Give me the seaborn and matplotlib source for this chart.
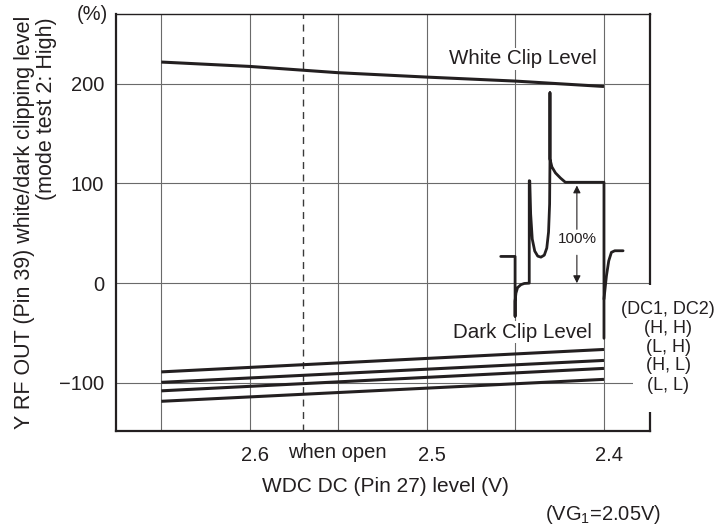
import numpy as np
import pandas as pd
import matplotlib
matplotlib.use('Agg')
import matplotlib.pyplot as plt
import matplotlib.transforms as mtransforms
from matplotlib.patches import Rectangle
import seaborn as sns

# sweep points on the WDC DC axis (V)
wdc_points = [2.65, 2.60, 2.55, 2.50, 2.45, 2.40]
white_clip = [221.8, 217.4, 211.1, 206.7, 202.7, 197.3]

# dark clip level for each (DC1, DC2) setting
dark_x = [2.65, 2.40]
dark_hh = [-89.0, -66.5]
dark_lh = [-99.5, -77.5]
dark_hl = [-108.0, -85.5]
dark_ll = [-118.5, -96.5]
dark_settings = ['(H, H)', '(L, H)', '(H, L)', '(L, L)']

# sketch of the video waveform drawn inside the plot
wave_x = [2.4583, 2.4502, 2.4502, 2.4502, 2.4497, 2.4488, 2.4469, 2.4450, 2.4422,
          2.4422, 2.4419, 2.4414, 2.4405, 2.4391, 2.4374, 2.4356, 2.4337, 2.4323,
          2.4313, 2.4307, 2.4305, 2.4305, 2.4305, 2.4294, 2.4274, 2.4246, 2.4218,
          2.4000, 2.4000]
wave_y = [26.8, 26.8, -33.2, -18.0, -10.0, -4.5, -1.5, -0.3, 0.0,
          102.8, 102.5, 69.3, 44.2, 32.2, 27.1, 26.1, 28.1, 35.2,
          51.3, 79.4, 124.6, 191.0, 124.6, 116.6, 110.6, 105.5, 101.2,
          101.2, -55.3]
tail_x = [2.4000, 2.3986, 2.3973, 2.3958, 2.3939, 2.3892]
tail_y = [-16.0, 7.3, 22.4, 30.9, 32.5, 32.5]

open_x = 2.57
x_ticks = [2.6, 2.5, 2.4]
x_grid = [2.65, 2.55, 2.45]
y_ticks = [-100, 0, 100, 200]

sns.set_theme(style='white')
plt.rcParams['font.family'] = ['Liberation Sans', 'DejaVu Sans']
plt.rcParams['mathtext.fontset'] = 'custom'
plt.rcParams['mathtext.rm'] = 'Liberation Sans'
plt.rcParams['mathtext.it'] = 'Liberation Sans'

W, H = 718, 528
ink = '#231f20'
fig = plt.figure(figsize=(W / 100, H / 100), dpi=100)
ax = fig.add_axes([116 / W, 1 - 430.7 / H, 534 / W, 416.7 / H])


def fx(px):
    return px / W


def fy(py):
    return 1 - py / H


sns.lineplot(x=wdc_points, y=white_clip, ax=ax, color=ink, lw=2.2,
             solid_capstyle='butt')

dark_df = pd.DataFrame({
    'wdc': dark_x * 4,
    'level': dark_hh + dark_lh + dark_hl + dark_ll,
    'setting': np.repeat(dark_settings, 2),
})
sns.lineplot(data=dark_df, x='wdc', y='level', hue='setting', ax=ax,
             palette=[ink] * 4, lw=2.2, legend=False, solid_capstyle='butt')

sns.lineplot(x=wave_x, y=wave_y, ax=ax, sort=False, estimator=None,
             color=ink, lw=2.0)
sns.lineplot(x=tail_x, y=tail_y, ax=ax, sort=False, estimator=None,
             color=ink, lw=2.0)

ax.axvline(open_x, color='#3a3a3a', lw=1.0, ls=(0, (5, 4)), zorder=1)

ax.set_xlabel('')
ax.set_ylabel('')
ax.set_xlim(2.6756, 2.374)
ax.set_ylim(-148, 270)
ax.set_xticks(x_ticks)
ax.set_xticks(x_grid, minor=True)
ax.set_yticks(y_ticks)
ax.set_yticklabels(['\u2212100', '0', '100', '200'])
ax.grid(True, which='both', color='#6a6a6a', lw=0.8)
ax.tick_params(axis='both', which='both', length=0, labelsize=14.5,
               colors=ink)
ax.tick_params(axis='y', pad=8.6)
ax.tick_params(axis='x', pad=11.2)
shift = mtransforms.ScaledTranslation(5 / 100, 0, fig.dpi_scale_trans)
for lab in ax.get_xticklabels():
    lab.set_transform(lab.get_transform() + shift)

for side in ['left', 'bottom', 'right']:
    ax.spines[side].set_linewidth(1.6)
    ax.spines[side].set_color(ink)
ax.spines['top'].set_linewidth(1.0)
ax.spines['top'].set_color(ink)

# gap in the right frame where the setting labels sit
ax.add_patch(Rectangle((0.968, 0.0456), 0.05, 0.3041, transform=ax.transAxes,
                       facecolor='white', edgecolor='none', zorder=3,
                       clip_on=False))

# 100% amplitude arrows
ax.annotate('', xy=(2.4153, 98), xytext=(2.4153, 54),
            arrowprops=dict(arrowstyle='-|>', color=ink, lw=0.8,
                            mutation_scale=11, shrinkA=0, shrinkB=0))
ax.annotate('', xy=(2.4153, 0), xytext=(2.4153, 28),
            arrowprops=dict(arrowstyle='-|>', color=ink, lw=0.8,
                            mutation_scale=11, shrinkA=0, shrinkB=0))
ax.text(2.4153, 44.7, '100%', ha='center', va='center', fontsize=11,
        color=ink)

ax.text(2.4458, 225, 'White Clip Level', ha='center', va='center',
        fontsize=14.8, color=ink, zorder=4,
        bbox=dict(facecolor='white', edgecolor='none', pad=1))
ax.text(2.4458, -49, 'Dark Clip Level', ha='center', va='center',
        fontsize=14.8, color=ink, zorder=4,
        bbox=dict(facecolor='white', edgecolor='none', pad=1))

# texts outside the axes, placed in pixel terms
fig.text(fx(92), fy(15), '(%)', ha='center', va='center', fontsize=14.5,
         color=ink)
fig.text(fx(25), fy(222.5), 'Y RF OUT (Pin 39) white/dark clipping level',
         rotation=90, ha='center', va='center', fontsize=15.5, color=ink)
fig.text(fx(47), fy(17), '(mode test 2: High)', rotation=90, ha='center',
         va='top', fontsize=15.5, color=ink)
fig.text(fx(337), fy(452), 'when open', ha='center', va='center',
         fontsize=14.5, color=ink)
fig.text(fx(385), fy(486.7), 'WDC DC (Pin 27) level (V)', ha='center',
         va='center', fontsize=15, color=ink)
fig.text(fx(603), fy(515), '(VG$_1$=2.05V)', ha='center', va='center',
         fontsize=14.5, color=ink)

for row_y, label in zip([310, 328.3, 347.3, 366, 385],
                        ['(DC1, DC2)'] + dark_settings):
    fig.text(fx(668), fy(row_y), label, ha='center', va='center',
             fontsize=13, color=ink)

fig.savefig('out.png', dpi=100)
